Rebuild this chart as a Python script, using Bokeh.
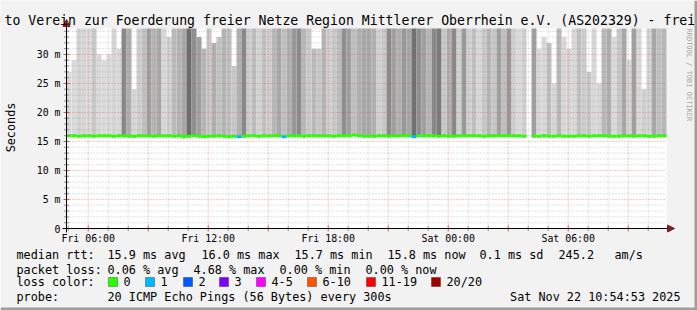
import math
from datetime import datetime, timedelta
from bokeh.plotting import figure
from bokeh.models import (Range1d, Label, BoxAnnotation, ColumnDataSource,
                          LinearColorMapper, Arrow, NormalHead)
from bokeh.core.properties import value
from bokeh.embed import file_html
from bokeh.resources import INLINE

# ---------------- data ----------------
title_text = "to Verein zur Foerderung freier Netze Region Mittlerer Oberrhein e.V. (AS202329) - frei"
t_start = datetime(2025, 11, 21, 4, 54, 53)
t_end = datetime(2025, 11, 22, 10, 54, 53)
bin_first = datetime(2025, 11, 21, 4, 55)
bin_minutes = 15

# smoke darkness (0 = white, 255 = black) per 15-minute bin
smoke_darkness = [
    34, 37, 45, 42, 37, 55, 39, 37, 37, 42,
    39, 119, 80, 42, 50, 63, 95, 75, 87, 39,
    47, 68, 75, 87, 149, 112, 95, 74, 55, 79,
    60, 74, 63, 55, 79, 119, 47, 66, 44, 63,
    47, 71, 87, 63, 79, 102, 116, 71, 51, 68,
    55, 74, 47, 55, 66, 112, 95, 63, 79, 87,
    87, 79, 47, 55, 116, 95, 79, 102, 87, 143,
    112, 95, 71, 119, 133, 55, 79, 119, 47, 102,
    44, 63, 39, 55, 71, 55, 95, 63, 102, 47,
    37, 48, float("nan"), 95, 40, 39, 63, 40, 71, 39,
    42, 39, 63, 51, 55, 39, 42, 71, 80, 37,
    55, 87, 40, 95, 39, 48, 42, 87, 63, 71,
]
# upper edge of the smoke (ms); 40 = beyond the top of the graph
smoke_top_ms = [
    27, 29, 40, 40, 40, 40, 30, 29, 30, 40,
    31, 40, 40, 24, 40, 40, 40, 40, 40, 40,
    33, 40, 40, 40, 40, 40, 33, 31, 40, 32,
    33, 40, 40, 28, 40, 40, 40, 40, 40, 40,
    40, 40, 40, 40, 40, 40, 40, 40, 40, 31,
    31, 40, 40, 40, 40, 40, 40, 40, 40, 40,
    40, 40, 40, 40, 40, 40, 40, 40, 40, 40,
    40, 40, 40, 40, 40, 40, 40, 40, 40, 40,
    40, 40, 40, 40, 40, 40, 40, 40, 40, 40,
    40, 40, float("nan"), 40, 31, 33, 32, 25, 40, 33,
    31, 40, 40, 40, 27, 40, 25, 40, 40, 33,
    40, 40, 29, 40, 40, 24, 40, 40, 40, 40,
]
median_ms = [
    16.0, 16.0, 15.9, 16.0, 16.0, 15.9, 16.0, 16.0, 16.0, 15.9,
    16.0, 16.0, 15.9, 15.9, 16.0, 16.0, 16.0, 15.9, 16.0, 16.0,
    16.0, 15.9, 16.0, 15.8, 15.9, 16.0, 15.9, 15.8, 15.9, 15.9,
    16.0, 15.9, 15.8, 15.9, 15.8, 15.9, 16.0, 16.0, 15.9, 16.0,
    16.0, 16.0, 16.0, 15.8, 16.0, 16.0, 16.0, 15.9, 16.0, 16.0,
    16.0, 16.0, 16.0, 15.9, 16.0, 16.0, 16.0, 16.1, 16.0, 15.9,
    15.9, 15.9, 16.0, 16.0, 15.9, 16.0, 16.0, 16.0, 16.0, 15.8,
    16.0, 16.0, 16.0, 16.0, 15.9, 16.0, 15.9, 15.9, 16.0, 16.0,
    16.0, 16.0, 16.0, 15.9, 16.0, 16.0, 16.0, 16.0, 16.0, 16.0,
    16.0, 15.9, float("nan"), 15.9, 15.9, 16.0, 15.9, 15.9, 16.0, 15.9,
    15.9, 15.9, 16.0, 16.0, 15.9, 16.0, 16.0, 16.0, 15.9, 15.9,
    15.9, 16.0, 16.0, 15.9, 16.0, 16.0, 15.9, 15.9, 16.0, 16.0,
]
loss_pings = [0] * 120
loss_pings[34] = 1
loss_pings[43] = 1
loss_pings[69] = 1

loss_labels = ["0", "1", "2", "3", "4-5", "6-10", "11-19", "20/20"]
loss_colors = ["#26ff00", "#00b8ff", "#0059ff", "#7e00ff", "#ff00ff", "#ff5500", "#ff0000", "#a10000"]
loss_upper = [0, 1, 2, 3, 5, 10, 19, 20]

y_ticks = [0, 5, 10, 15, 20, 25, 30]
y_tick_labels = ["0", "5 m", "10 m", "15 m", "20 m", "25 m", "30 m"]
y_max = 34.48

stats_rtt = ["median rtt:", "15.9 ms avg", "16.0 ms max", "15.7 ms min", "15.8 ms now", "0.1 ms sd", "245.2", "am/s"]
stats_loss = ["packet loss:", "0.06 % avg", "4.68 % max", "0.00 % min", "0.00 % now"]
probe_text = ["probe:", "20 ICMP Echo Pings (56 Bytes) every 300s"]
stamp_text = "Sat Nov 22 10:54:53 2025"

# ---------------- layout (canvas pixels) ----------------
W, H = 697, 310
PL, PR, PT, PB = 66, 666, 28, 228      # graph area inside the canvas
FONT = "DejaVu Sans Mono"
BG = "#F2F2F2"
GRID_MINOR = "#8F8F8F"
GRID_MAJOR = "#DE5151"


def ms(dt):
    return (dt - datetime(1970, 1, 1)).total_seconds() * 1000.0


x0, x1 = ms(t_start), ms(t_end)
kx = (x1 - x0) / (PR - PL)          # data units per pixel
ky = y_max / (PB - PT)

p = figure(width=W, height=H, output_backend="svg", toolbar_location=None,
           x_axis_location=None, y_axis_location=None,
           x_range=Range1d(x0 - PL * kx, x1 + (W - PR) * kx),
           y_range=Range1d(-(H - PB) * ky, y_max + PT * ky),
           min_border=0, min_border_left=0, min_border_right=0,
           min_border_top=0, min_border_bottom=0)
p.background_fill_color = BG
p.border_fill_color = BG
p.outline_line_color = None
p.grid.visible = False

# graph canvas
p.add_layout(BoxAnnotation(left=x0, right=x1, bottom=0, top=y_max, fill_color="white",
                           fill_alpha=1, line_color=None, level="underlay", editable=False))

# smoke + median
n = len(smoke_darkness)
lefts = [ms(bin_first + timedelta(minutes=bin_minutes * i)) for i in range(n)]
rights = [min(ms(bin_first + timedelta(minutes=bin_minutes * (i + 1))), x1) for i in range(n)]


def loss_color(k):
    for up, c in zip(loss_upper, loss_colors):
        if k <= up:
            return c
    return loss_colors[-1]


src = ColumnDataSource(dict(left=lefts, right=rights, bottom=median_ms,
                            top=[min(t, y_max) for t in smoke_top_ms],
                            dark=smoke_darkness, med=median_ms,
                            lc=[loss_color(k) for k in loss_pings]))
gray_palette = ["#%02x%02x%02x" % (255 - k, 255 - k, 255 - k) for k in range(256)]
mapper = LinearColorMapper(palette=gray_palette, low=0, high=255)
p.quad(left="left", right="right", bottom="bottom", top="top", source=src,
       fill_color={"field": "dark", "transform": mapper}, line_color=None)

# grid
hours = [t_start.replace(minute=0, second=0) + timedelta(hours=h) for h in range(1, 31)]
minor_h = [ms(h) for h in hours if h.hour % 3 != 0]
major_h = [ms(h) for h in hours if h.hour % 3 == 0]
label_h = [h for h in hours if h.hour % 6 == 0]
minor_y = [v for v in range(1, 35) if v % 5 != 0]
major_y = [v for v in y_ticks if v != 0]

p.segment(x0=minor_h, x1=minor_h, y0=0, y1=y_max, line_color=GRID_MINOR, line_alpha=0.5, line_dash="1 2")
p.segment(x0=x0, x1=x1, y0=minor_y, y1=minor_y, line_color=GRID_MINOR, line_alpha=0.5, line_dash="1 2")
p.segment(x0=major_h, x1=major_h, y0=0, y1=y_max, line_color=GRID_MAJOR, line_alpha=0.6, line_dash="1 2")
p.segment(x0=x0, x1=x1, y0=major_y, y1=major_y, line_color=GRID_MAJOR, line_alpha=0.6, line_dash="1 2")

p.segment(x0="left", x1="right", y0="med", y1="med", source=src, line_color="lc", line_width=3)

# axes
head = dict(size=7, fill_color="#7F1F1F", line_color="#7F1F1F", line_width=1)
p.add_layout(Arrow(x_start=x0 - 4 * kx, y_start=0, x_end=x1 + 8 * kx, y_end=0,
                   line_color="black", line_width=1, end=NormalHead(**head)))
p.add_layout(Arrow(x_start=x0, y_start=-4 * ky, x_end=x0, y_end=y_max + 9 * ky,
                   line_color="black", line_width=1, end=NormalHead(**head)))
p.scatter(x=minor_h, y=0, marker="dash", angle=math.pi / 2, size=5, line_color=GRID_MINOR)
p.scatter(x=major_h, y=0, marker="dash", angle=math.pi / 2, size=6, line_color=GRID_MAJOR)
p.scatter(x=x0, y=minor_y, marker="dash", size=5, line_color=GRID_MINOR)
p.scatter(x=x0, y=major_y, marker="dash", size=6, line_color=GRID_MAJOR)

p.text(x=[ms(h) for h in label_h], y=0, text=[h.strftime("%a %H:%M") for h in label_h],
       y_offset=10, text_align="center", text_baseline="middle",
       text_font=value(FONT), text_font_size="9.9px", text_color="black")
p.text(x=x0, y=y_ticks, text=y_tick_labels, x_offset=-6, text_align="right",
       text_baseline="middle", text_font=value(FONT), text_font_size="9.9px", text_color="black")


# texts outside the graph (screen units: origin bottom-left of the canvas)
def label(x, y, text, size="11.8px", **kw):
    p.add_layout(Label(x=x, y=H - y, x_units="screen", y_units="screen", text=text,
                       text_font=FONT, text_font_size=size, text_baseline="middle",
                       text_color=kw.pop("color", "black"), **kw))


label(4, 20, title_text, size="13.2px")
label(10, 127, "Seconds", angle=math.pi / 2, text_align="center")
label(688, 28, "RRDTOOL / TOBI OETIKER", size="7px", angle=-math.pi / 2, color="#A8A8A8")

rtt_x = [16, 107, 201, 294, 387, 479, 558, 614]
for x, t in zip(rtt_x, stats_rtt):
    label(x, 254, t)
loss_x = [16, 107, 193, 279, 365]
for x, t in zip(loss_x, stats_loss):
    label(x, 269, t)
label(16, 281, "loss color:")
box_x = [108, 145, 183, 219, 256, 307, 366, 431]
for bx, lab in zip(box_x, loss_labels):
    label(bx + 15, 281, lab)
label(16, 296, probe_text[0])
label(107, 296, probe_text[1])
label(680, 296, stamp_text, text_align="right")


def sbox(l, r, t, b, col, lc=None):
    p.add_layout(BoxAnnotation(left=l, right=r, top=H - t, bottom=H - b, left_units="screen",
                               right_units="screen", top_units="screen", bottom_units="screen",
                               fill_color=col, fill_alpha=1, line_color=lc, line_width=1,
                               level="overlay", editable=False))


for bx, col in zip(box_x, loss_colors):
    sbox(bx, bx + 9, 277, 286, col, "black")
sbox(694, 697, 0, 310, "#9E9E9E")
sbox(0, 697, 307, 310, "#9E9E9E")

open("out.html", "w").write(file_html(p, INLINE))
